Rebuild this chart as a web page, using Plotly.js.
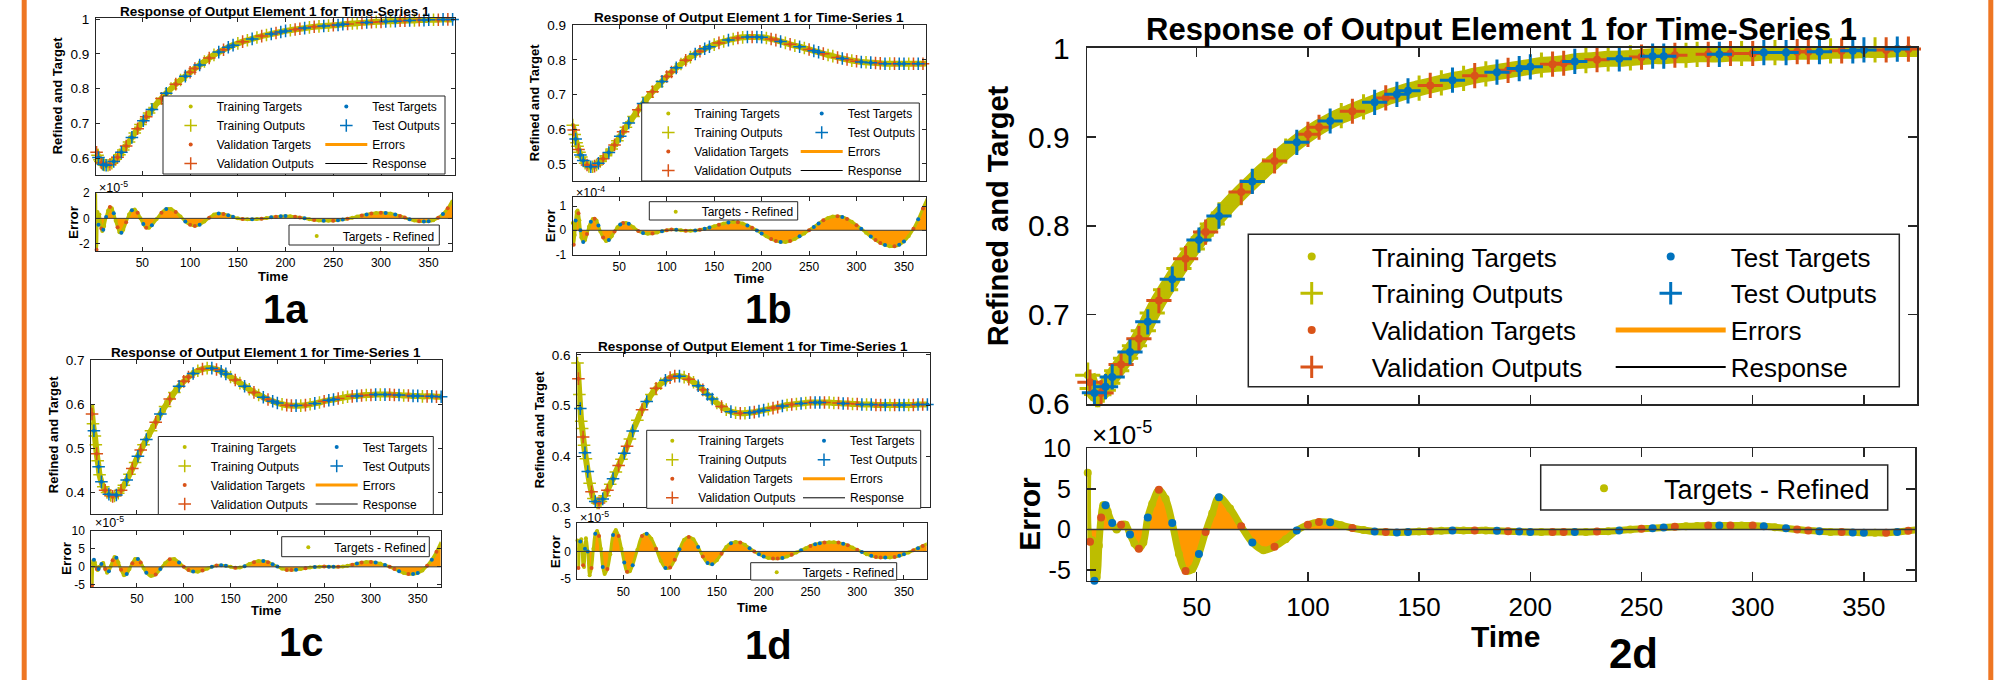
<!DOCTYPE html>
<html>
<head>
<meta charset="utf-8">
<script src="https://cdn.plot.ly/plotly-3.0.1.min.js"></script>
<style>
html,body{margin:0;padding:0;background:#ffffff;}
#fig{width:2012px;height:680px;}
</style>
</head>
<body>
<div id="fig"></div>
<script>
// ================= DATA =================
const time = [1,2,3,4,5,6,7,8,9,10,12,14,16,18,20,22,24,26,28,30,33,36,39,42,45,48,51,54,57,60,65,70,75,80,85,90,95,100,105,110,115,120,125,130,135,140,145,150,155,160,165,170,175,180,185,190,195,200,205,210,215,220,225,230,235,240,245,250,255,260,265,270,275,280,285,290,295,300,305,310,315,320,325,330,335,340,345,350,355,360,365,370,375];

const valTimes = [2,7,16,24,33,45,54,70,85,100,105,120,135,155,175,190,210,215,230,250,265,280,290,300,320,325,340,360,370];
const testTimes = [4,9,12,20,28,39,51,60,75,95,110,130,140,145,165,185,195,200,220,240,255,260,285,305,315,330,345,350,365,375];

const xTickVals = [50,100,150,200,250,300,350];

const resp1a = [0.625,0.617,0.609,0.602,0.596,0.591,0.587,0.584,0.582,0.581,
 0.580,0.580,0.582,0.586,0.591,0.597,0.603,0.610,0.617,0.624,
 0.635,0.647,0.660,0.673,0.685,0.697,0.708,0.719,0.730,0.740,
 0.757,0.772,0.787,0.800,0.813,0.825,0.836,0.847,0.858,0.868,
 0.878,0.888,0.897,0.905,0.912,0.919,0.925,0.930,0.935,0.939,
 0.943,0.947,0.951,0.954,0.957,0.960,0.963,0.966,0.968,0.970,
 0.972,0.974,0.976,0.978,0.979,0.980,0.981,0.982,0.983,0.985,
 0.986,0.987,0.988,0.989,0.990,0.991,0.992,0.992,0.993,0.994,
 0.994,0.995,0.995,0.996,0.996,0.997,0.997,0.998,0.998,0.998,
 0.999,0.999,0.999];
const err1a = [2.0,-2.5,0.5,-0.5,0.3,-0.4,-0.8,-1.0,-0.9,-0.6,
 0.1,0.6,0.9,0.8,0.4,-0.2,-0.7,-1.1,-1.15,-0.9,
 -0.3,0.3,0.65,0.7,0.45,0.0,-0.45,-0.75,-0.75,-0.55,
 -0.05,0.45,0.75,0.75,0.5,0.15,-0.25,-0.5,-0.6,-0.5,
 -0.25,0.05,0.3,0.38,0.35,0.25,0.12,0.0,-0.06,-0.08,
 -0.08,-0.06,-0.03,0.02,0.08,0.13,0.17,0.18,0.16,0.12,
 0.06,0.0,-0.07,-0.13,-0.17,-0.19,-0.2,-0.19,-0.16,-0.1,
 -0.03,0.05,0.14,0.23,0.31,0.38,0.42,0.44,0.43,0.38,
 0.3,0.19,0.06,-0.08,-0.18,-0.24,-0.26,-0.24,-0.15,0.05,
 0.35,0.8,1.45];

const resp1b = [0.612,0.598,0.585,0.572,0.561,0.551,0.542,0.534,0.526,0.520,
 0.510,0.502,0.497,0.493,0.492,0.492,0.494,0.497,0.502,0.507,
 0.515,0.524,0.533,0.543,0.555,0.567,0.580,0.593,0.606,0.618,
 0.637,0.656,0.674,0.692,0.708,0.723,0.738,0.752,0.765,0.777,
 0.788,0.799,0.808,0.817,0.825,0.832,0.838,0.844,0.849,0.853,
 0.857,0.860,0.863,0.865,0.866,0.866,0.866,0.865,0.863,0.860,
 0.857,0.853,0.849,0.845,0.841,0.838,0.834,0.830,0.826,0.822,
 0.818,0.814,0.811,0.807,0.804,0.801,0.798,0.796,0.794,0.793,
 0.792,0.791,0.790,0.789,0.789,0.789,0.789,0.789,0.789,0.789,
 0.789,0.789,0.790];
const err1b = [0.3,-0.6,-0.2,0.4,0.75,0.82,0.7,0.4,0.0,-0.3,
 -0.48,-0.4,-0.15,0.15,0.35,0.46,0.48,0.4,0.2,-0.05,
 -0.3,-0.44,-0.4,-0.25,-0.05,0.12,0.24,0.3,0.3,0.27,
 0.12,-0.03,-0.11,-0.14,-0.13,-0.09,-0.04,0.0,0.03,0.02,
 0.0,-0.02,-0.02,-0.01,0.02,0.06,0.11,0.17,0.23,0.28,
 0.32,0.34,0.33,0.28,0.2,0.1,-0.01,-0.13,-0.25,-0.36,
 -0.44,-0.48,-0.48,-0.44,-0.36,-0.25,-0.13,0.0,0.14,0.28,
 0.41,0.51,0.57,0.58,0.55,0.47,0.35,0.21,0.06,-0.1,
 -0.26,-0.4,-0.52,-0.61,-0.66,-0.66,-0.6,-0.46,-0.24,0.06,
 0.45,0.9,1.35];

const resp1c = [0.598,0.578,0.556,0.540,0.528,0.508,0.488,0.472,0.458,0.440,
 0.424,0.413,0.405,0.400,0.396,0.393,0.391,0.392,0.394,0.398,
 0.405,0.416,0.428,0.441,0.454,0.468,0.482,0.496,0.508,0.520,
 0.540,0.559,0.578,0.595,0.612,0.627,0.641,0.652,0.662,0.670,
 0.676,0.680,0.682,0.682,0.679,0.675,0.669,0.662,0.655,0.648,
 0.641,0.634,0.627,0.621,0.616,0.611,0.607,0.603,0.600,0.598,
 0.597,0.597,0.597,0.598,0.600,0.602,0.604,0.607,0.609,0.611,
 0.613,0.615,0.617,0.618,0.619,0.620,0.621,0.621,0.622,0.622,
 0.622,0.622,0.621,0.621,0.620,0.620,0.619,0.619,0.618,0.618,
 0.618,0.617,0.617];
const err1c = [2.0,-5.2,1.0,2.0,1.2,0.2,-0.6,-0.9,-0.6,0.0,
 0.8,1.1,-0.6,-1.6,-1.2,0.2,1.8,2.7,2.5,1.3,
 -0.8,-2.3,-2.0,-0.6,1.0,2.2,2.2,1.2,-0.3,-1.6,
 -2.55,-2.1,-0.6,1.0,2.1,2.2,1.2,0.0,-0.9,-1.3,
 -1.35,-1.0,-0.5,0.0,0.4,0.47,0.3,0.0,-0.27,-0.2,
 0.2,0.8,1.3,1.6,1.6,1.3,0.7,0.1,-0.5,-0.85,
 -0.9,-0.8,-0.6,-0.4,-0.2,-0.05,0.05,0.1,0.05,0.0,
 0.0,0.1,0.3,0.6,0.9,1.2,1.35,1.37,1.2,0.9,
 0.5,0.0,-0.6,-1.2,-1.7,-2.0,-2.0,-1.7,-1.0,0.3,
 2.0,4.2,6.9];

const resp1d = [0.584,0.553,0.522,0.494,0.469,0.455,0.438,0.422,0.407,0.395,
 0.370,0.347,0.330,0.317,0.311,0.308,0.308,0.311,0.316,0.322,
 0.333,0.345,0.356,0.369,0.382,0.394,0.406,0.420,0.434,0.450,
 0.471,0.492,0.508,0.522,0.534,0.543,0.550,0.555,0.558,0.558,
 0.556,0.552,0.546,0.539,0.531,0.522,0.513,0.505,0.498,0.492,
 0.488,0.486,0.485,0.485,0.486,0.487,0.489,0.491,0.493,0.495,
 0.497,0.499,0.501,0.502,0.503,0.504,0.505,0.506,0.506,0.506,
 0.506,0.506,0.505,0.505,0.504,0.504,0.503,0.503,0.502,0.502,
 0.502,0.501,0.501,0.501,0.501,0.501,0.501,0.501,0.501,0.501,
 0.502,0.502,0.502];
const err1d = [2.0,-3.0,0.5,1.8,2.2,1.0,-2.5,-2.8,0.5,2.4,
 0.0,-4.3,-3.0,0.5,3.2,3.7,2.8,0.5,-2.8,-4.1,
 -3.2,-0.5,3.0,3.9,2.8,0.5,-2.0,-3.7,-3.6,-2.5,
 0.3,2.8,3.2,2.3,0.5,-1.7,-3.0,-2.9,-1.5,0.4,
 2.1,2.6,2.2,0.8,-0.9,-2.1,-2.3,-1.6,-0.4,0.8,
 1.5,1.7,1.6,1.2,0.6,0.0,-0.5,-0.9,-1.2,-1.3,
 -1.3,-1.2,-0.9,-0.6,-0.2,0.2,0.6,1.0,1.3,1.5,
 1.6,1.65,1.65,1.6,1.4,1.1,0.7,0.3,-0.1,-0.5,
 -0.8,-1.0,-1.1,-1.1,-1.1,-1.0,-0.8,-0.5,-0.2,0.2,
 0.6,1.0,1.4];

const resp2d = [0.632,0.624,0.617,0.612,0.610,0.610,0.612,0.615,0.619,0.623,
 0.630,0.637,0.644,0.651,0.658,0.665,0.673,0.682,0.692,0.702,
 0.716,0.728,0.740,0.752,0.763,0.774,0.784,0.793,0.802,0.811,
 0.825,0.838,0.850,0.862,0.873,0.884,0.894,0.903,0.911,0.918,
 0.924,0.929,0.934,0.939,0.944,0.948,0.952,0.955,0.958,0.961,
 0.964,0.966,0.969,0.971,0.973,0.975,0.977,0.979,0.981,0.982,
 0.983,0.985,0.986,0.987,0.988,0.988,0.989,0.990,0.991,0.991,
 0.992,0.992,0.993,0.993,0.993,0.994,0.994,0.994,0.995,0.995,
 0.995,0.996,0.996,0.996,0.997,0.997,0.997,0.998,0.998,0.998,
 0.999,0.999,0.999];
const err2d = [7.0,-1.5,-1.3,-6.3,-5.9,-2.0,1.5,3.0,3.0,2.2,
 0.8,0.0,0.6,0.6,-0.6,-1.7,-2.35,-1.6,1.5,3.2,
 4.9,3.8,0.8,-3.0,-5.1,-4.9,-3.0,-0.3,2.0,4.0,
 2.6,0.4,-1.6,-2.55,-2.1,-1.2,-0.1,0.6,0.95,0.9,
 0.55,0.2,-0.05,-0.25,-0.3,-0.35,-0.3,-0.25,-0.2,-0.15,
 -0.1,-0.1,-0.1,-0.1,-0.15,-0.2,-0.25,-0.3,-0.3,-0.3,
 -0.3,-0.3,-0.3,-0.25,-0.2,-0.1,0.0,0.1,0.15,0.25,
 0.35,0.4,0.45,0.5,0.5,0.5,0.5,0.5,0.4,0.3,
 0.15,0.0,-0.1,-0.2,-0.3,-0.3,-0.35,-0.4,-0.4,-0.4,
 -0.3,-0.15,0.0];

const yTicks1aTop = [0.6,0.7,0.8,0.9,1];
const yTicks1aErr = [-2,0,2];
const yTicks1bTop = [0.5,0.6,0.7,0.8,0.9];
const yTicks1bErr = [-1,0,1];
const yTicks1cTop = [0.4,0.5,0.6,0.7];
const yTicks1cErr = [-5,0,5,10];
const yTicks1dTop = [0.3,0.4,0.5,0.6];
const yTicks1dErr = [-5,0,5];
const yTicks2dTop = [0.6,0.7,0.8,0.9,1];
const yTicks2dErr = [-5,0,5,10];

const titleText = 'Response of Output Element 1 for Time-Series 1';
const topYLabel = 'Refined and Target';
const errYLabel = 'Error';
const xLabel = 'Time';
const errLegendName = 'Targets - Refined';

// ================= LAYOUT / STYLE =================
const W = 2012, H = 680;
const FONT = '"Liberation Sans", Arial, Helvetica, sans-serif';
const COL = {train:'#BDBD00', val:'#D95319', test:'#0072BD', err:'#FF9900', resp:'#000000', axis:'#262626', frame:'#EE7623'};
const fx = v => v / W, fy = v => 1 - v / H;

const SMALL = {tickTop:13.5, tickBot:12, tickX:12, title:13.5, yTitle:13, eTitle:13.5, xTitle:13,
  leg:12, legB:12, expo:12.5, label:40, ticklen:4, lw:1, band:6, bandE:3, plus:9, plusW:1.5,
  dot:4, edot:4, respW:1, errW:3, boxW:1, standY:3, standX:1, itemW:42};
const BIG = {tickTop:30, tickBot:25, tickX:26, title:31, yTitle:29, eTitle:30, xTitle:30,
  leg:26, legB:27, expo:26, label:42, ticklen:9, lw:1.5, band:16, bandE:7, plus:18, plusW:3,
  dot:8, edot:8, respW:2, errW:5, boxW:1.5, standY:10, standX:3, itemW:110};

const panels = [
 {name:'1a', resp:resp1a, err:err1a, expo:-5, yTop:yTicks1aTop, yErr:yTicks1aErr, st:SMALL,
  top:{x:[96,455], y:[18,175], xr:[1.4,377.5], yr:[0.552,1.003]},
  bot:{x:[96,452], y:[193,251], xr:[1.4,374.5], yr:[-2.6,2.02]},
  title:[275,11], yLab:[57.5,95.8], eLab:[73.3,221.7], tLab:[273.3,276], expoAt:[96.7,187], label:[285,309],
  legTop:{a:216.7, b:372.3, c:135, bx:[163,445]}, legBot:{a:342.7, c:236, box:[289,439.3,225,245]}},
 {name:'1b', resp:resp1b, err:err1b, expo:-4, yTop:yTicks1bTop, yErr:yTicks1bErr, st:SMALL,
  top:{x:[572.7,926], y:[25,181], xr:[0.9,373.2], yr:[0.451,0.9005]},
  bot:{x:[572.7,926], y:[197.3,255], xr:[0.9,373.2], yr:[-1.02,1.36]},
  title:[749,17], yLab:[534.7,102.5], eLab:[550.8,225.5], tLab:[749,278], expoAt:[574,191.7], label:[768,309],
  legTop:{a:694.3, b:847.7, c:142, bx:[641.7,919.3]}, legBot:{a:701.7, c:211.7, box:[649.3,797.7,201.7,220]}},
 {name:'1c', resp:resp1c, err:err1c, expo:-5, yTop:yTicks1cTop, yErr:yTicks1cErr, st:SMALL,
  top:{x:[91.3,441.7], y:[360,514], xr:[1.2,375.6], yr:[0.351,0.7005]},
  bot:{x:[91.3,440.7], y:[530.7,586.7], xr:[1.2,374.5], yr:[-5.5,10.02]},
  title:[265.8,352], yLab:[54.2,435], eLab:[66.7,558.3], tLab:[266.2,610.5], expoAt:[92.7,521.7], label:[301.7,642],
  legTop:{a:210.7, b:362.7, c:475.5, bx:[158.3,433.3]}, legBot:{a:334.3, c:547.3, box:[281.7,429.3,536.7,556.7]}},
 {name:'1d', resp:resp1d, err:err1d, expo:-5, yTop:yTicks1dTop, yErr:yTicks1dErr, st:SMALL,
  top:{x:[577.3,930], y:[353.3,507.3], xr:[0.8,377.8], yr:[0.2995,0.603]},
  bot:{x:[577.3,926.7], y:[523.3,579.3], xr:[0.8,374.3], yr:[-5.05,5.1]},
  title:[753,346], yLab:[539.2,430], eLab:[555.5,551.7], tLab:[751.7,607], expoAt:[578.3,516.7], label:[768.3,645],
  legTop:{a:698.3, b:850, c:469.3, bx:[646.7,920.7]}, legBot:{a:802.7, c:572.3, box:[750.7,896.7,562.7,580]}},
 {name:'2d', resp:resp2d, err:err2d, expo:-5, yTop:yTicks2dTop, yErr:yTicks2dErr, st:BIG,
  top:{x:[1087.3,1917.3], y:[47.7,404], xr:[0.8,374], yr:[0.5995,1.0005]},
  bot:{x:[1087.3,1915], y:[448.3,580.7], xr:[0.8,373], yr:[-6.3,10.02]},
  title:[1501,30], yLab:[998.3,216], eLab:[1029.5,514.2], tLab:[1505,636], expoAt:[1090,433], label:[1633,653],
  legTop:{a:1371.7, b:1730.7, c:311.7, bx:[1248.3,1899.3], by:[234.3,386.7]}, legBot:{a:1664, c:488.3, box:[1540.7,1887.7,465,510]}}
];

const data = [];
const layout = {
  width:W, height:H, margin:{l:0,r:0,t:0,b:0,autoexpand:false},
  paper_bgcolor:'#ffffff', plot_bgcolor:'#ffffff', showlegend:true, hovermode:false,
  annotations:[], shapes:[], font:{family:FONT, color:'#000'}
};

const sfx = n => n === 1 ? '' : String(n);
const rowH = size => Math.max(size * 1.3, 16) + 3;

function axisObj(domPx, rng, tickvals, st, isY, showLabels, anchor, fsize) {
  const dom = isY ? [fy(domPx[1]), fy(domPx[0])] : [fx(domPx[0]), fx(domPx[1])];
  return {
    domain:dom, range:rng, autorange:false, anchor:anchor,
    tickmode:'array', tickvals:tickvals, ticktext:tickvals.map(v => String(v)),
    ticks:'inside', ticklen:st.ticklen, tickwidth:st.lw, tickcolor:COL.axis,
    showline:true, linecolor:COL.axis, linewidth:st.lw, mirror:'ticks',
    showgrid:false, zeroline:false, showticklabels:showLabels,
    tickfont:{family:FONT, size:fsize, color:'#000'},
    ticklabelstandoff: isY ? st.standY : st.standX, fixedrange:true
  };
}
function legendObj(textLeft, topPx, size, itemW) {
  return {x:fx(textLeft - (itemW + 10)), y:fy(topPx), xanchor:'left', yanchor:'top', orientation:'v',
    bgcolor:'rgba(0,0,0,0)', borderwidth:0, font:{family:FONT, size:size, color:'#000'},
    itemwidth:itemW, itemclick:false, itemdoubleclick:false, traceorder:'normal'};
}
function ann(text, xy, size, bold, extra) {
  return Object.assign({text:text, x:fx(xy[0]), y:fy(xy[1]), xref:'paper', yref:'paper', showarrow:false,
    xanchor:'center', yanchor:'middle',
    font:{family:FONT, size:size, color:'#000', weight: bold ? 'bold' : 'normal'}}, extra || {});
}
function rect(x0, x1, y0, y1, w) {
  return {type:'rect', xref:'paper', yref:'paper', x0:fx(x0), x1:fx(x1), y0:fy(y1), y1:fy(y0),
    line:{color:COL.axis, width:w}, fillcolor:'#ffffff', layer:'above'};
}

const trainTimes = time.filter(t => valTimes.indexOf(t) < 0 && testTimes.indexOf(t) < 0);

panels.forEach((p, k) => {
  const st = p.st;
  const nT = 2 * k + 1, nB = 2 * k + 2;
  const xT = 'x' + sfx(nT), yT = 'y' + sfx(nT), xB = 'x' + sfx(nB), yB = 'y' + sfx(nB);
  layout['xaxis' + sfx(nT)] = axisObj(p.top.x, p.top.xr, xTickVals, st, false, false, yT, st.tickX);
  layout['yaxis' + sfx(nT)] = axisObj(p.top.y, p.top.yr, p.yTop, st, true, true, xT, st.tickTop);
  layout['xaxis' + sfx(nB)] = axisObj(p.bot.x, p.bot.xr, xTickVals, st, false, true, yB, st.tickX);
  layout['yaxis' + sfx(nB)] = axisObj(p.bot.y, p.bot.yr, p.yErr, st, true, true, xB, st.tickBot);

  const scale = Math.pow(10, p.expo);
  const lgA = 'legend' + sfx(3 * k + 1), lgB = 'legend' + sfx(3 * k + 2), lgC = 'legend' + sfx(3 * k + 3);
  const tgt = times => times.map(t => p.resp[time.indexOf(t)]);
  const out = times => times.map(t => { const i = time.indexOf(t); return p.resp[i] - p.err[i] * scale; });
  const errAt = times => times.map(t => p.err[time.indexOf(t)]);

  // ---- top: response panel ----
  const ex = [], ey = [];
  time.forEach((t, i) => { ex.push(t, t, null); ey.push(p.resp[i], p.resp[i] - p.err[i] * scale, null); });
  data.push({type:'scatter', mode:'lines', x:ex, y:ey, xaxis:xT, yaxis:yT, name:'Errors',
    legend:lgB, legendrank:3, line:{color:COL.err, width:st.errW}});
  data.push({type:'scatter', mode:'lines', x:time, y:out(time), xaxis:xT, yaxis:yT, name:'Response',
    legend:lgB, legendrank:4, line:{color:COL.resp, width:st.respW, shape:'spline'}});
  data.push({type:'scatter', mode:'lines', x:time, y:p.resp, xaxis:xT, yaxis:yT, showlegend:false,
    line:{color:COL.train, width:st.band, shape:'spline'}});
  const mk = (times, yv, name, color, plus, lg, rank) => ({
    type:'scatter', mode:'markers', x:times, y:yv, xaxis:xT, yaxis:yT, name:name, legend:lg, legendrank:rank,
    cliponaxis:false,
    marker: plus ? {symbol:'cross-thin-open', size:st.plus, color:color, line:{color:color, width:st.plusW}}
                 : {symbol:'circle', size:st.dot, color:color, line:{width:0}}
  });
  data.push(mk(trainTimes, tgt(trainTimes), 'Training Targets', COL.train, false, lgA, 1));
  data.push(mk(trainTimes, out(trainTimes), 'Training Outputs', COL.train, true, lgA, 2));
  data.push(mk(valTimes, tgt(valTimes), 'Validation Targets', COL.val, false, lgA, 3));
  data.push(mk(valTimes, out(valTimes), 'Validation Outputs', COL.val, true, lgA, 4));
  data.push(mk(testTimes, tgt(testTimes), 'Test Targets', COL.test, false, lgB, 1));
  data.push(mk(testTimes, out(testTimes), 'Test Outputs', COL.test, true, lgB, 2));

  // ---- bottom: error panel ----
  data.push({type:'scatter', mode:'lines', x:time, y:p.err, xaxis:xB, yaxis:yB, showlegend:false,
    fill:'tozeroy', fillcolor:COL.err, line:{color:COL.err, width:0.5, shape:'spline'}});
  data.push({type:'scatter', mode:'lines', x:time, y:p.err, xaxis:xB, yaxis:yB, showlegend:false,
    line:{color:COL.train, width:st.bandE, shape:'spline'}});
  data.push({type:'scatter', mode:'markers', x:trainTimes, y:errAt(trainTimes), xaxis:xB, yaxis:yB,
    name:errLegendName, legend:lgC, cliponaxis:false, marker:{symbol:'circle', size:st.edot, color:COL.train}});
  data.push({type:'scatter', mode:'markers', x:valTimes, y:errAt(valTimes), xaxis:xB, yaxis:yB,
    showlegend:false, cliponaxis:false, marker:{symbol:'circle', size:st.edot, color:COL.val}});
  data.push({type:'scatter', mode:'markers', x:testTimes, y:errAt(testTimes), xaxis:xB, yaxis:yB,
    showlegend:false, cliponaxis:false, marker:{symbol:'circle', size:st.edot, color:COL.test}});

  // zero line over the error fill
  layout.shapes.push({type:'line', xref:xB + ' domain', x0:0, x1:1, yref:yB, y0:0, y1:0,
    line:{color:'#3a3a3a', width:st.lw}, layer:'above'});

  // legends
  const h = rowH(st.leg);
  const lt = p.legTop;
  const topPx = lt.c - 5 - 2 * h;
  layout[lgA] = legendObj(lt.a, topPx, st.leg, st.itemW);
  layout[lgB] = legendObj(lt.b, topPx, st.leg, st.itemW);
  const by = lt.by || [lt.c - 2 * h - 1, lt.c + 2 * h + 1];
  layout.shapes.push(rect(lt.bx[0], lt.bx[1], by[0], by[1], st.boxW));
  const lb = p.legBot;
  const hb = rowH(st.legB);
  layout[lgC] = legendObj(lb.a, lb.c - 5 - hb / 2, st.legB, st.itemW);
  layout.shapes.push(rect(lb.box[0], lb.box[1], lb.box[2], lb.box[3], st.boxW));

  // texts
  layout.annotations.push(ann(titleText, p.title, st.title, true));
  layout.annotations.push(ann(topYLabel, p.yLab, st.yTitle, true, {textangle:-90}));
  layout.annotations.push(ann(errYLabel, p.eLab, st.eTitle, true, {textangle:-90}));
  layout.annotations.push(ann(xLabel, p.tLab, st.xTitle, true));
  layout.annotations.push(ann('\u00d710<sup>' + p.expo + '</sup>', p.expoAt, st.expo, false, {xanchor:'left'}));
  layout.annotations.push(ann(p.name, p.label, st.label, true));
});

// orange frame lines
layout.shapes.push({type:'line', xref:'paper', yref:'paper', x0:fx(24.2), x1:fx(24.2), y0:0, y1:1,
  line:{color:COL.frame, width:5}, layer:'above'});
layout.shapes.push({type:'line', xref:'paper', yref:'paper', x0:fx(1990.8), x1:fx(1990.8), y0:0, y1:1,
  line:{color:COL.frame, width:5}, layer:'above'});

Plotly.newPlot('fig', data, layout, {staticPlot:true, displayModeBar:false});
</script>
</body>
</html>
